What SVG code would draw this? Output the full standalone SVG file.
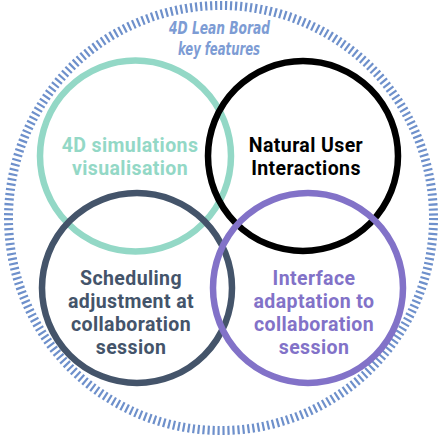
<svg xmlns="http://www.w3.org/2000/svg" width="439" height="439" viewBox="0 0 439 439">
<style>
.ring{fill:none;stroke-width:6.5}
.lbl{font-family:Roboto,"Liberation Sans",sans-serif;font-weight:bold;font-size:19.5px;letter-spacing:0.4px;text-anchor:middle}
.ttl{font-family:"DejaVu Sans Condensed","DejaVu Sans",sans-serif;font-stretch:condensed;font-weight:bold;font-style:italic;font-size:18.5px;fill:#7D9CD4;text-anchor:middle}
</style>
<rect width="439" height="439" fill="#ffffff"/>
<g id="frame">
<circle cx="221" cy="218" r="212.5" fill="none" stroke="#6E90CB" stroke-width="9" stroke-dasharray="2.2 2.8"/>
<text class="ttl" x="219.5" y="33.5" textLength="101" lengthAdjust="spacingAndGlyphs">4D Lean Borad</text>
<text class="ttl" x="219" y="55" textLength="82" lengthAdjust="spacingAndGlyphs">key features</text>
</g>
<g id="connectors"></g>
<g id="node-4d">
<circle class="ring" cx="135.5" cy="156" r="95.5" stroke="#93D8C6"/>
<text class="lbl" fill="#93D8C6" x="130" y="152">4D simulations</text>
<text class="lbl" fill="#93D8C6" x="130" y="175">visualisation</text>
</g>
<g id="node-nui">
<circle class="ring" cx="303" cy="156" r="95" stroke="#000000"/>
<text class="lbl" fill="#000000" x="306" y="152">Natural User</text>
<text class="lbl" fill="#000000" x="306" y="175">Interactions</text>
</g>
<g id="node-sched">
<circle class="ring" cx="137" cy="288" r="95" stroke="#44546A"/>
<text class="lbl" fill="#44546A" x="131" y="285">Scheduling</text>
<text class="lbl" fill="#44546A" x="131" y="308">adjustment at</text>
<text class="lbl" fill="#44546A" x="131" y="331">collaboration</text>
<text class="lbl" fill="#44546A" x="131" y="354">session</text>
</g>
<g id="node-iface">
<circle class="ring" cx="308" cy="288" r="95" stroke="#8272C8"/>
<text class="lbl" fill="#8272C8" x="314" y="285">Interface</text>
<text class="lbl" fill="#8272C8" x="314" y="308">adaptation to</text>
<text class="lbl" fill="#8272C8" x="314" y="331">collaboration</text>
<text class="lbl" fill="#8272C8" x="314" y="354">session</text>
</g>
</svg>
